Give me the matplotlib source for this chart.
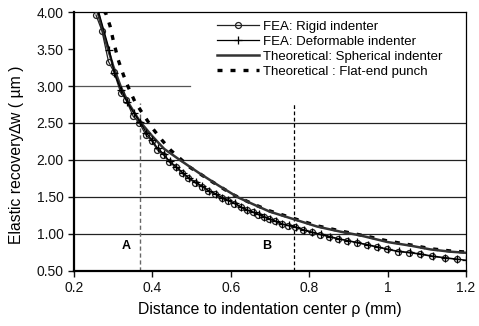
import matplotlib
matplotlib.use("Agg")
import matplotlib.pyplot as plt

# FEA: rigid indenter
rigid_x = [0.256, 0.271, 0.288, 0.302, 0.319, 0.333, 0.351, 0.367, 0.383, 0.398,
           0.412, 0.428, 0.443, 0.460, 0.476, 0.492, 0.509, 0.526, 0.543, 0.560,
           0.577, 0.592, 0.609, 0.625, 0.641, 0.657, 0.670, 0.684, 0.698, 0.713,
           0.730, 0.747, 0.764, 0.785, 0.806, 0.828, 0.851, 0.874, 0.897, 0.921,
           0.948, 0.974, 0.999, 1.027, 1.055, 1.083, 1.114, 1.145, 1.176]
rigid_y = [3.96, 3.75, 3.33, 3.19, 2.91, 2.81, 2.59, 2.50, 2.34, 2.26,
           2.14, 2.07, 1.97, 1.90, 1.82, 1.75, 1.69, 1.64, 1.58, 1.54,
           1.48, 1.45, 1.41, 1.36, 1.32, 1.29, 1.26, 1.23, 1.20, 1.17,
           1.13, 1.11, 1.09, 1.05, 1.02, 0.99, 0.96, 0.93, 0.91, 0.88,
           0.85, 0.82, 0.79, 0.76, 0.745, 0.725, 0.695, 0.675, 0.655]

# FEA: deformable indenter
deform_x = [0.262, 0.290, 0.303, 0.320, 0.336, 0.352, 0.368, 0.384, 0.399,
            0.413, 0.429, 0.444, 0.461, 0.477, 0.493, 0.510, 0.527, 0.544, 0.561,
            0.578, 0.593, 0.610, 0.626, 0.642, 0.658, 0.671, 0.685, 0.699, 0.714,
            0.731, 0.748, 0.765, 0.786, 0.807, 0.829, 0.852, 0.875, 0.898, 0.922,
            0.949, 0.975, 1.000, 1.028, 1.056, 1.084, 1.115, 1.146, 1.177, 1.200]
deform_y = [4.02, 3.49, 3.17, 2.95, 2.78, 2.64, 2.52, 2.37, 2.27,
            2.16, 2.08, 1.98, 1.91, 1.83, 1.76, 1.70, 1.645, 1.585, 1.545,
            1.49, 1.455, 1.415, 1.365, 1.325, 1.295, 1.265, 1.235, 1.205, 1.175,
            1.135, 1.115, 1.095, 1.055, 1.025, 0.995, 0.965, 0.935, 0.91, 0.885,
            0.855, 0.825, 0.795, 0.765, 0.75, 0.73, 0.70, 0.68, 0.66, 0.645]

# Theoretical: spherical indenter
sph_x = [0.258, 0.28, 0.30, 0.32, 0.34, 0.368, 0.40, 0.43, 0.47, 0.52, 0.57,
         0.62, 0.67, 0.70, 0.76, 0.82, 0.88, 0.93, 1.00, 1.06, 1.11, 1.16, 1.20]
sph_y = [4.05, 3.62, 3.27, 2.98, 2.76, 2.52, 2.32, 2.15, 2.00, 1.82, 1.65,
         1.49, 1.37, 1.30, 1.20, 1.10, 1.03, 0.98, 0.89, 0.84, 0.79, 0.76, 0.745]

# Theoretical: flat-end punch
flat_x = [0.276, 0.282, 0.292, 0.300, 0.313, 0.326, 0.338, 0.356, 0.385, 0.400,
          0.424, 0.447, 0.496, 0.551, 0.606, 0.650, 0.700, 0.760, 0.820, 0.880,
          0.950, 1.000, 1.060, 1.110, 1.160, 1.200]
flat_y = [4.02, 3.97, 3.81, 3.62, 3.35, 3.15, 2.99, 2.78, 2.55, 2.43,
          2.27, 2.13, 1.90, 1.71, 1.53, 1.42, 1.31, 1.21, 1.11, 1.04,
          0.965, 0.905, 0.85, 0.80, 0.77, 0.755]

# positions A and B
mark_x = [0.368, 0.761]
mark_labels = ["A", "B"]
mark_top = 2.77

plt.rcParams["font.family"] = ["Liberation Sans", "DejaVu Sans"]

fig = plt.figure(figsize=(4.79, 3.26), dpi=100)
ax = fig.add_axes([0.1545, 0.169, 0.8185, 0.794])

# grid: the 3.00 line stops where the legend begins, 3.50 is hidden by it
for g in [1.0, 1.5, 2.0, 2.5]:
    ax.axhline(g, color="#222222", lw=0.9, zorder=1)
ax.axhline(3.0, xmax=0.296, color="#555555", lw=0.9, zorder=1)

ax.plot(flat_x, flat_y, color="black", lw=2.4, ls=(0, (1.5, 2.4)), zorder=3,
        label="Theoretical : Flat-end punch")
ax.plot(sph_x, sph_y, color="#333333", lw=1.8, zorder=4,
        label="Theoretical: Spherical indenter")
ax.plot(rigid_x, rigid_y, color="#222222", lw=0.9, marker="o", ms=4.3,
        mfc="none", mec="#222222", mew=0.9, zorder=5, label="FEA: Rigid indenter")
ax.plot(deform_x, deform_y, color="black", lw=0.9, marker="+", ms=5.5,
        mew=0.9, zorder=5, label="FEA: Deformable indenter")

ax.plot([mark_x[0]] * 2, [0.5, mark_top], color="#666666", lw=1.0, ls=(0, (3, 2)), zorder=2)
ax.plot([mark_x[1]] * 2, [0.5, mark_top], color="black", lw=0.9, ls=(0, (3, 2)), zorder=2)
ax.text(mark_x[0] - 0.035, 0.84, mark_labels[0], fontsize=9, fontweight="bold",
        ha="center", va="center")
ax.text(mark_x[1] - 0.07, 0.84, mark_labels[1], fontsize=9, fontweight="bold",
        ha="center", va="center")

ax.set_xlim(0.2, 1.2)
ax.set_ylim(0.5, 4.0)
ax.set_xticks([0.2, 0.4, 0.6, 0.8, 1.0, 1.2])
ax.set_xticklabels(["0.2", "0.4", "0.6", "0.8", "1", "1.2"])
ax.set_yticks([0.5, 1.0, 1.5, 2.0, 2.5, 3.0, 3.5, 4.0])
ax.set_yticklabels(["%.2f" % v for v in [0.5, 1.0, 1.5, 2.0, 2.5, 3.0, 3.5, 4.0]])
ax.tick_params(direction="out", length=4, width=1, labelsize=10, colors="#111111")
for s in ["left", "bottom"]:
    ax.spines[s].set_linewidth(1.6)
for s in ["top", "right"]:
    ax.spines[s].set_linewidth(0.9)

ax.set_xlabel("Distance to indentation center ρ (mm)", fontsize=11.3, labelpad=5)
ax.set_ylabel("Elastic recovery∆w ( µm )", fontsize=11.3)
ax.yaxis.set_label_coords(-0.128, 0.45)

h, l = ax.get_legend_handles_labels()
order = [2, 3, 1, 0]
leg = ax.legend([h[i] for i in order], [l[i] for i in order],
                loc="upper left", bbox_to_anchor=(0.365, 0.967),
                frameon=False, fontsize=9.5, handlelength=3.2,
                handletextpad=0.25, labelspacing=0.21, borderaxespad=0,
                borderpad=0)

fig.savefig("out.png", dpi=100)
